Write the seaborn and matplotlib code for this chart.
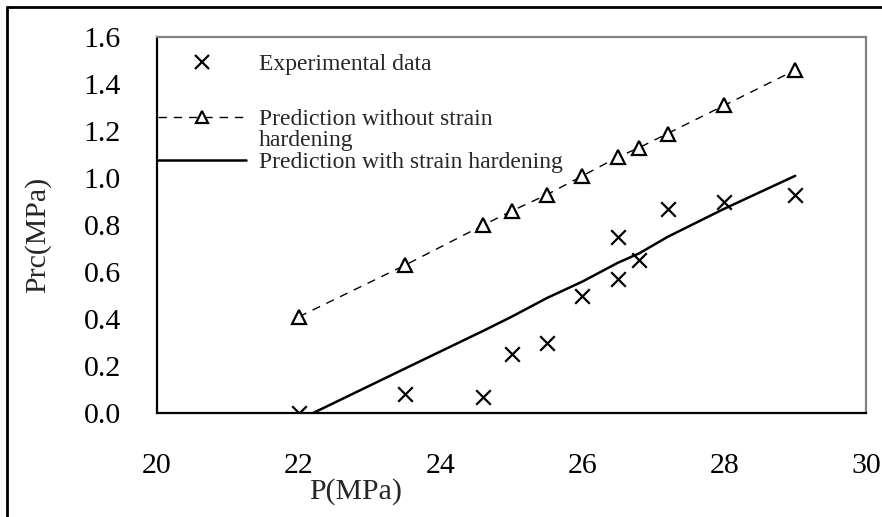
import numpy as np
import pandas as pd
import seaborn as sns
import matplotlib.pyplot as plt
from matplotlib.lines import Line2D

# experimental points
exp_p = [22.0, 23.5, 24.6, 25.0, 25.5, 26.0, 26.5, 26.5, 26.8, 27.2, 28.0, 29.0]
exp_prc = [0.00, 0.08, 0.07, 0.25, 0.30, 0.50, 0.57, 0.75, 0.65, 0.87, 0.90, 0.93]

# prediction without strain hardening
nosh_p = [22.0, 23.5, 24.6, 25.0, 25.5, 26.0, 26.5, 26.8, 27.2, 28.0, 29.0]
nosh_prc = [0.41, 0.63, 0.80, 0.86, 0.93, 1.01, 1.09, 1.13, 1.19, 1.31, 1.46]

# prediction with strain hardening
sh_p = [22.2, 23.5, 24.6, 25.0, 25.5, 26.0, 26.5, 26.8, 27.2, 28.0, 29.0]
sh_prc = [0.00, 0.19, 0.35, 0.41, 0.49, 0.56, 0.64, 0.68, 0.75, 0.87, 1.01]

x_ticks = [20, 22, 24, 26, 28, 30]
y_ticks = [0.0, 0.2, 0.4, 0.6, 0.8, 1.0, 1.2, 1.4, 1.6]

sns.set_style("white")
plt.rcParams['font.family'] = ['Liberation Serif', 'DejaVu Serif']

fig, ax = plt.subplots(figsize=(8.82, 5.17), dpi=100)
fig.subplots_adjust(left=0.178, right=0.982, top=0.928, bottom=0.201)

sns.scatterplot(x=exp_p, y=exp_prc, marker="x", s=110, color="black",
                linewidth=1.6, ax=ax, zorder=4)
sns.lineplot(x=nosh_p, y=nosh_prc, sort=False, estimator=None, color="black",
             linestyle=(0, (6, 5)), linewidth=1.0, marker="^", markersize=10,
             markerfacecolor="white", markeredgecolor="black",
             markeredgewidth=1.6, ax=ax, zorder=3)
sns.lineplot(x=sh_p, y=sh_prc, sort=False, estimator=None, color="black",
             linewidth=1.8, ax=ax, zorder=2)

ax.set_xlim(20, 30)
ax.set_ylim(0, 1.6)
ax.set_xticks(x_ticks)
ax.set_yticks(y_ticks)
ax.set_yticklabels([f"{v:.1f}" for v in y_ticks])
ax.tick_params(axis="both", direction="in", length=10, width=1.5,
               labelsize=21.5, colors="black")
ax.tick_params(axis="x", pad=29)
ax.tick_params(axis="y", pad=26)

for side in ["left", "bottom"]:
    ax.spines[side].set_color("black")
    ax.spines[side].set_linewidth(1.6)
for side in ["top", "right"]:
    ax.spines[side].set_color("#808080")
    ax.spines[side].set_linewidth(1.6)

ax.set_xlabel("P(MPa)", fontsize=21.5)
ax.set_ylabel("Prc(MPa)", fontsize=21.5)
ax.xaxis.set_label_coords(0.28, -0.172)
ax.yaxis.set_label_coords(-0.15, 0.473)

# legend, split in two blocks to follow the original spacing
exp_handle = Line2D([], [], color="black", linestyle="none", marker="x",
                    markersize=10, markeredgewidth=1.6)
nosh_handle = Line2D([], [], color="black", linestyle=(0, (6, 5)),
                     linewidth=1.0, marker="^", markersize=9,
                     markerfacecolor="white", markeredgewidth=1.6)
blank_handle = Line2D([], [], linestyle="none")
sh_handle = Line2D([], [], color="black", linewidth=1.8)

legend_kw = dict(loc="upper left", frameon=False, fontsize=17,
                 handlelength=3.7, handletextpad=0.55, borderaxespad=0.0,
                 borderpad=0.0)
leg1 = ax.legend([exp_handle], ["Experimental data"],
                 bbox_to_anchor=(0.002, 0.957), **legend_kw)
ax.add_artist(leg1)
ax.legend([nosh_handle, blank_handle, sh_handle],
          ["Prediction without strain", "hardening",
           "Prediction with strain hardening"],
          bbox_to_anchor=(0.002, 0.811), labelspacing=0.0, **legend_kw)

# outer frame of the figure (left and top edges visible)
fig.add_artist(Line2D([0.008, 0.008], [0.0, 0.987], color="black",
                      linewidth=2, transform=fig.transFigure))
fig.add_artist(Line2D([0.008, 1.0], [0.987, 0.987], color="black",
                      linewidth=2, transform=fig.transFigure))

fig.savefig("out.png", dpi=100)
